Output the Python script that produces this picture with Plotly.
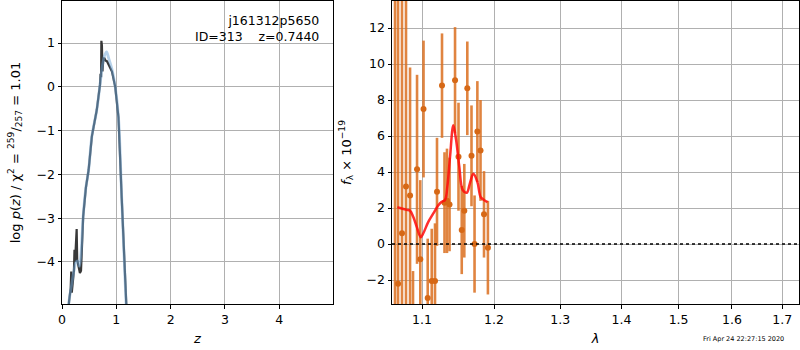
import numpy as np
import plotly.graph_objects as go

# ---------------- data: p(z) panel ----------------
z_blue = [0.10, 0.14, 0.18, 0.22, 0.26, 0.29, 0.32, 0.35, 0.39, 0.44, 0.49, 0.55,
          0.64, 0.70, 0.74, 0.78, 0.82, 0.86, 0.92, 0.98, 1.04, 1.10, 1.18, 1.22]
logp_blue = [-5.2, -4.8, -4.5, -4.2, -4.0, -3.98, -4.1, -3.8, -2.96, -2.3, -1.9, -1.13,
             -0.53, 0.05, 0.45, 0.70, 0.80, 0.65, 0.40, 0.0, -0.70, -2.55, -4.96, -6.0]

z_dark = [0.10, 0.13, 0.16, 0.17, 0.18, 0.20, 0.22, 0.23, 0.24, 0.26, 0.27, 0.28,
          0.30, 0.33, 0.35, 0.39, 0.44, 0.49, 0.55, 0.64, 0.70, 0.71, 0.72, 0.725,
          0.735, 0.745, 0.75, 0.76, 0.78, 0.80, 0.83, 0.86, 0.92, 0.98, 1.04, 1.10,
          1.18, 1.22]
logp_dark = [-5.5, -4.9, -4.6, -4.22, -4.7, -4.45, -4.2, -3.72, -4.0, -3.5, -3.25, -3.95,
             -4.05, -4.25, -4.2, -2.96, -2.3, -1.9, -1.13, -0.53, 0.05, 0.30, 0.22, 1.05,
             0.95, 0.35, 0.50, 0.62, 0.66, 0.60, 0.58, 0.50, 0.35, 0.0, -0.70, -2.55,
             -4.96, -6.0]

z_ticks = [0, 1, 2, 3, 4]
logp_ticks = [-4, -3, -2, -1, 0, 1]

# ---------------- data: spectrum panel ----------------
wave = [1.0647, 1.0686, 1.0737, 1.0789, 1.0842, 1.0881, 1.0934, 1.0977, 1.1020,
        1.1076, 1.1130, 1.1174, 1.1201, 1.1269, 1.1303, 1.1337, 1.1372, 1.1448,
        1.1496, 1.1541, 1.1577, 1.1619, 1.1678, 1.1721, 1.1761, 1.1806, 1.1856,
        1.1912]
flux = [-4.5, -2.2, 0.6, 3.2, 2.7, -4.5, 4.15, -0.85, 7.5,
        -3.0, -2.05, -2.05, 2.9, 8.8, 2.3, 2.4, 2.2, 9.1,
        4.85, 0.78, 1.85, 8.65, 4.9, 0.0, 6.25, 5.2, 1.65,
        -0.2]
flux_err = [19, 17, 14, 11, 7.1, 3.0, 5.25, 4.4, 3.8,
            3.3, 2.9, 3.2, 3.0, 2.9, 2.8, 2.9, 2.6, 2.95,
            3.0, 2.45, 2.6, 2.6, 2.8, 2.7, 2.8, 2.8, 2.4,
            2.6]

model_wave = [1.0677, 1.0711, 1.0798, 1.0842, 1.0885, 1.0930, 1.0983, 1.1017, 1.1084,
              1.1151, 1.1219, 1.1265, 1.1310, 1.1342, 1.1379, 1.1424, 1.1462, 1.1507,
              1.1555, 1.1611, 1.1657, 1.1704, 1.1761, 1.1809, 1.1856, 1.1907]
model_flux = [2.05, 2.0, 1.9, 1.85, 1.5, 0.95, 0.38, 0.6, 1.23,
              1.7, 2.15, 2.35, 2.45, 3.2, 4.85, 6.6, 5.8, 4.3,
              3.0, 2.85, 3.4, 3.9, 3.45, 2.6, 2.45, 2.33]

wave_ticks = [1.1, 1.2, 1.3, 1.4, 1.5, 1.6, 1.7]
flux_ticks = [-2, 0, 2, 4, 6, 8, 10, 12]

# ---------------- figure ----------------
FONT = "DejaVu Sans"
fig = go.Figure()

fig.add_trace(go.Scatter(x=z_dark, y=logp_dark, mode="lines",
                         line=dict(color="rgba(45,45,45,0.95)", width=2.2),
                         xaxis="x", yaxis="y", showlegend=False))
fig.add_trace(go.Scatter(x=z_blue, y=logp_blue, mode="lines",
                         line=dict(color="rgba(110,165,215,0.5)", width=2.8, shape="spline"),
                         xaxis="x", yaxis="y", showlegend=False))

fig.add_trace(go.Scatter(x=wave, y=flux, mode="markers",
                         marker=dict(color="rgb(214,104,22)", size=6),
                         error_y=dict(type="data", array=flux_err, visible=True,
                                      color="rgba(218,110,30,0.85)", thickness=2.6, width=0),
                         xaxis="x2", yaxis="y2", showlegend=False))
fig.add_trace(go.Scatter(x=model_wave, y=model_flux, mode="lines",
                         line=dict(color="rgba(255,10,10,0.85)", width=2.5, shape="spline"),
                         xaxis="x2", yaxis="y2", showlegend=False))

fig.add_shape(type="line", xref="x2 domain", yref="y2", x0=0, x1=1, y0=0, y1=0,
              line=dict(color="black", width=1.5, dash="dot"))

grid = "#b0b0b0"
common = dict(showline=True, mirror=True, linecolor="black", linewidth=1,
              ticks="outside", ticklen=3.5, tickcolor="black", automargin=False,
              showgrid=True, gridcolor=grid, gridwidth=1, zeroline=False,
              tickfont=dict(family=FONT, size=12.5, color="black"))

fig.update_layout(
    width=800, height=350,
    margin=dict(l=0, r=0, t=0, b=0, autoexpand=False),
    paper_bgcolor="white", plot_bgcolor="white",
    font=dict(family=FONT, size=12.5, color="black"),
    xaxis=dict(domain=[62/800, 333/800], range=[0, 4.99], tickvals=z_ticks,
               title=dict(text="<i>z</i>", font=dict(size=13), standoff=8),
               anchor="y", **common),
    yaxis=dict(domain=[46/350, 349/350], range=[-4.96, 1.96], tickvals=logp_ticks,
               ticktext=["−4", "−3", "−2", "−1", "0", "1"],
               title=dict(text="log <i>p</i>(<i>z</i>) / χ<sup>2</sup> = <sup>259</sup>/<sub>257</sub> = 1.01",
                          font=dict(size=13), standoff=13),
               anchor="x", **common),
    xaxis2=dict(domain=[392/800, 799/800], type="log",
                range=[np.log10(1.0608), np.log10(1.735)],
                tickvals=wave_ticks, ticktext=[str(v) for v in wave_ticks],
                title=dict(text="<i>λ</i>", font=dict(size=13), standoff=8),
                anchor="y2", **common),
    yaxis2=dict(domain=[46/350, 349/350], range=[-3.33, 13.5], tickvals=flux_ticks,
                ticktext=["−2", "0", "2", "4", "6", "8", "10", "12"],
                title=dict(text="<i>f</i><sub>λ</sub> × 10<sup>−19</sup>",
                           font=dict(size=13), standoff=12),
                anchor="x2", **common),
    annotations=[
        dict(text="j161312p5650<br>ID=313    z=0.7440", xref="paper", yref="paper",
             x=321/800, y=1 - 11/350, xanchor="right", yanchor="top", align="right",
             showarrow=False, font=dict(family=FONT, size=12.5, color="black")),
        dict(text="Fri Apr 24 22:27:15 2020", xref="paper", yref="paper",
             x=701/800, y=1 - 339/350, xanchor="left", yanchor="middle",
             showarrow=False, font=dict(family=FONT, size=6.5, color="black")),
    ],
)

fig.write_html("out.html", config={"displayModeBar": False},
               post_script="document.body.style.margin='0';document.body.style.padding='0';")
